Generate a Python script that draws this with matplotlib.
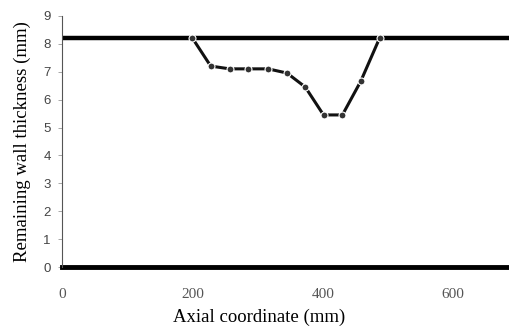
import numpy as np
import matplotlib.pyplot as plt

# measured wall thickness along the pipe
axial = [200, 228, 257, 285, 316, 345, 373, 401, 430, 458, 487]
thickness = [8.2, 7.2, 7.1, 7.1, 7.1, 6.95, 6.45, 5.45, 5.45, 6.65, 8.2]
nominal = 8.2
x_ticks = [0, 200, 400, 600]
y_ticks = list(range(0, 10))

fig = plt.figure(figsize=(5.1, 3.29), dpi=100)
ax = fig.add_axes([0.1216, 0.188, 0.8784, 0.764])

ax.axhline(nominal, color='black', lw=3.2, zorder=2)
ax.axhline(0, color='black', lw=3.5, zorder=2, clip_on=False)
ax.plot(axial, thickness, '-', color='#111111', lw=2.2, zorder=3)
ax.plot(axial, thickness, 'o', color='#333333', ms=5, mec='white', mew=0.8, zorder=4)

ax.set_xlim(0, 687)
ax.set_ylim(0, 9)
ax.set_xticks(x_ticks)
ax.set_yticks(y_ticks)
ax.set_xticklabels([str(v) for v in x_ticks], family='Liberation Serif', color='#555555', fontsize=11)
ax.set_yticklabels([str(v) for v in y_ticks], family='Liberation Sans', color='#444444', fontsize=9.5)
ax.tick_params(axis='x', length=0, pad=15)
ax.tick_params(axis='y', length=3, width=0.6, color='#999999', direction='out', pad=5)

for s in ['top', 'right', 'bottom']:
    ax.spines[s].set_visible(False)
ax.spines['left'].set_color('#555555')
ax.spines['left'].set_linewidth(0.8)

ax.set_xlabel('Axial coordinate (mm)', family='Liberation Serif', fontsize=13.5)
ax.xaxis.set_label_coords(0.44, -0.165)
ax.set_ylabel('Remaining wall thickness (mm)', family='Liberation Serif', fontsize=13.5, labelpad=9)

fig.savefig('out.png', dpi=100)
